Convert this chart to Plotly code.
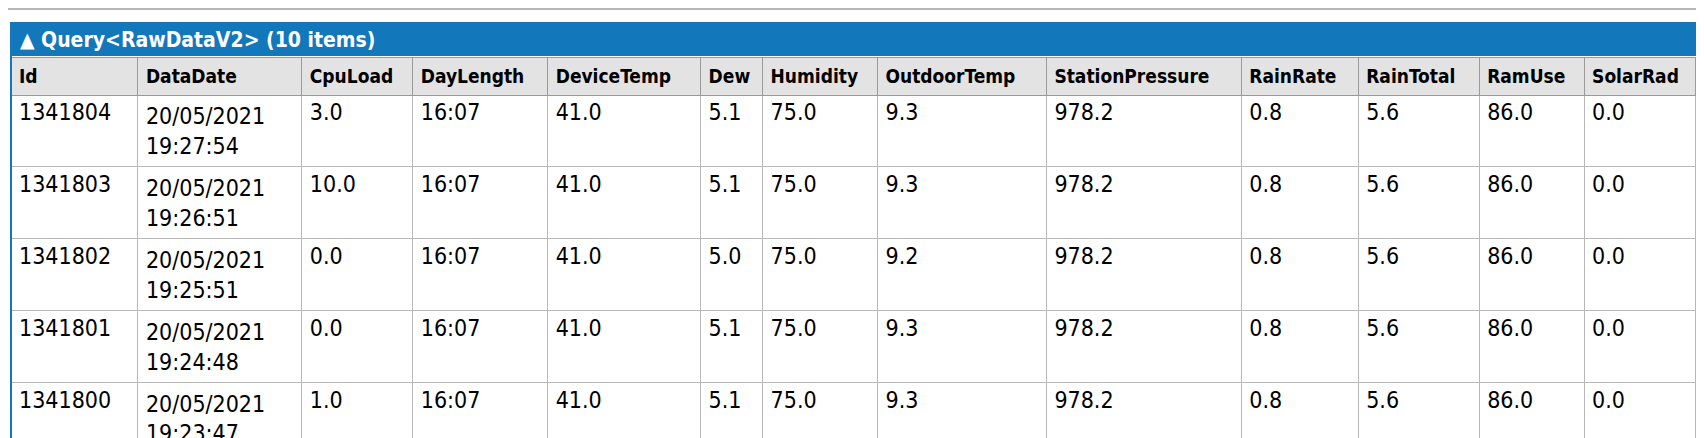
import plotly.graph_objects as go

W, H = 1696, 430          # page body has an 8px margin
D = 8                     # offset to compensate the body margin
columns = ["Id", "DataDate", "CpuLoad", "DayLength", "DeviceTemp", "Dew", "Humidity",
           "OutdoorTemp", "StationPressure", "RainRate", "RainTotal", "RamUse", "SolarRad"]
ids = ["1341804", "1341803", "1341802", "1341801", "1341800"]
dates = ["20/05/2021<br>19:27:54", "20/05/2021<br>19:26:51", "20/05/2021<br>19:25:51",
         "20/05/2021<br>19:24:48", "20/05/2021<br>19:23:47"]
cpu = ["3.0", "10.0", "0.0", "0.0", "1.0"]
daylen = ["16:07"] * 5
devtemp = ["41.0"] * 5
dew = ["5.1", "5.1", "5.0", "5.1", "5.1"]
humidity = ["75.0"] * 5
outtemp = ["9.3", "9.3", "9.2", "9.3", "9.3"]
pressure = ["978.2"] * 5
rainrate = ["0.8"] * 5
raintotal = ["5.6"] * 5
ramuse = ["86.0"] * 5
solar = ["0.0"] * 5
title = "Query&lt;RawDataV2&gt; (10 items)"

colw = [127, 164, 111, 135, 153, 62, 115, 169, 195, 117, 121, 105, 111]
x0 = 11 - D
x1 = x0 + sum(colw)
FONT = "DejaVu Sans Condensed, DejaVu Sans"

fig = go.Figure(go.Table(
    domain=dict(x=[x0 / W, min(1, x1 / W)], y=[0, 1 - (57 - D) / H]),
    columnwidth=colw,
    header=dict(values=["<b>%s</b>" % c for c in columns], fill_color="#e3e3e3",
                line_color="#9a9a9a", align="left", height=30,
                font=dict(family=FONT, size=19, color="black")),
    cells=dict(values=[ids, dates, cpu, daylen, devtemp, dew, humidity, outtemp, pressure,
                       rainrate, raintotal, ramuse, solar],
               fill_color="white", line_color="#b8b8b8", align="left", height=66,
               font=dict(family=FONT, size=23, color="black")),
))
fig.update_layout(
    width=W, height=H, margin=dict(l=0, r=0, t=0, b=0),
    paper_bgcolor="white", plot_bgcolor="white",
    xaxis=dict(visible=False, range=[0, W]), yaxis=dict(visible=False, range=[H, 0]),
    shapes=[
        dict(type="line", xref="x", yref="y", x0=0, x1=W, y0=9 - D, y1=9 - D,
             line=dict(color="#a0a0a0", width=1.5)),
        dict(type="rect", xref="x", yref="y", x0=10 - D, x1=W, y0=22 - D, y1=56 - D,
             fillcolor="#1277bb", line=dict(width=0)),
        dict(type="rect", xref="x", yref="y", x0=10 - D, x1=12 - D, y0=56 - D, y1=H,
             fillcolor="#1277bb", line=dict(width=0)),
    ],
    annotations=[dict(xref="x", yref="y", x=18 - D, y=40 - D, xanchor="left", yanchor="middle",
                      showarrow=False, text="<b>▲ " + title + "</b>",
                      font=dict(family=FONT, size=21, color="white"))],
)
fig.write_html("out.html")
